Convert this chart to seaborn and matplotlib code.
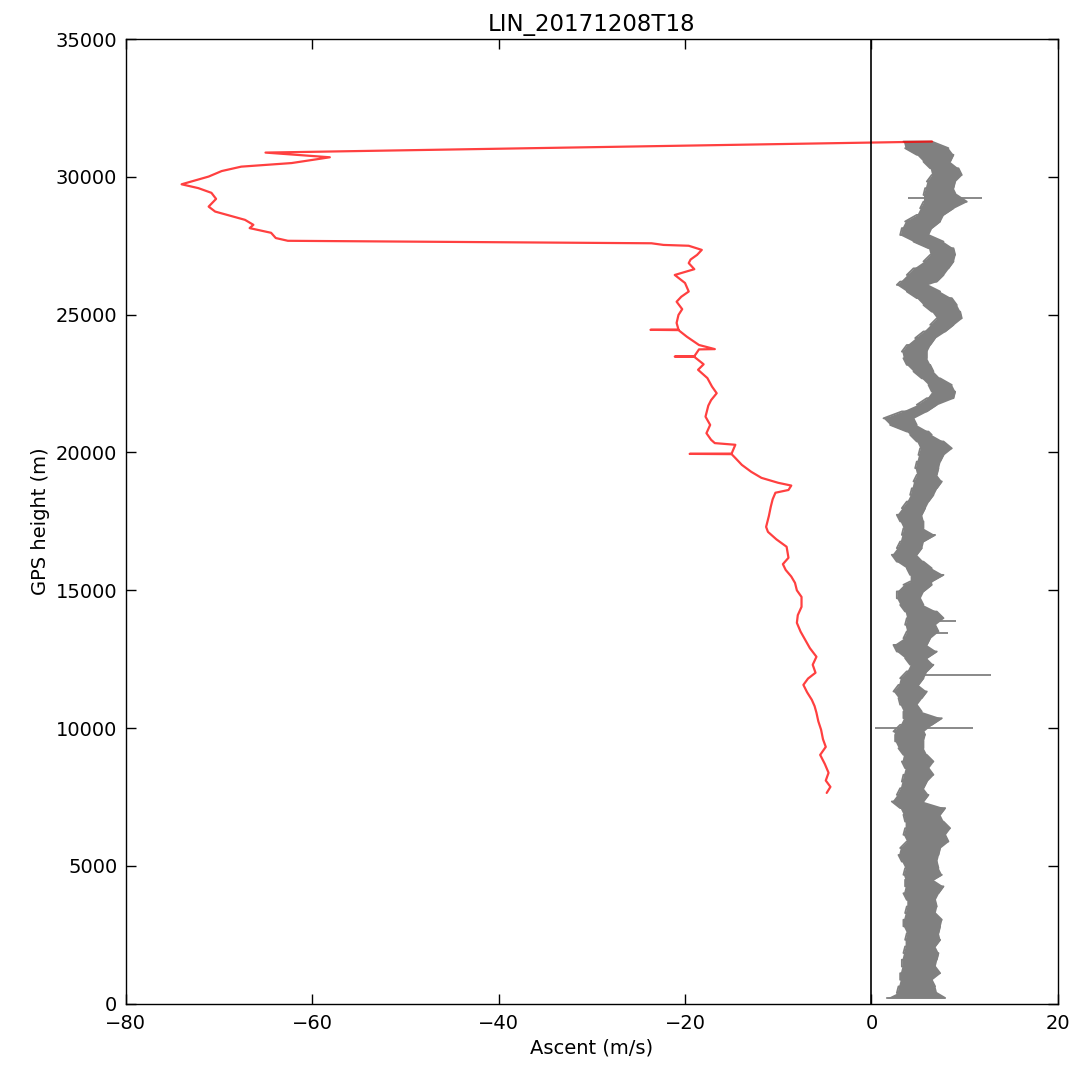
import numpy as np
import pandas as pd
import matplotlib
matplotlib.use("Agg")
import matplotlib.pyplot as plt
import seaborn as sns

# ascent profile: height (m), left edge / right edge (m/s)
asc_height = [31280, 31040, 30800, 30550, 30310, 30070, 29830, 29590, 29340, 29100,
              28860, 28620, 28380, 28140, 27890, 27650, 27410, 27170, 26930, 26680,
              26440, 26200, 26080, 25840, 25600, 25350, 25110, 24870, 24630, 24390,
              24150, 23900, 23660, 23420, 23180, 22940, 22690, 22450, 22210, 21970,
              21730, 21490, 21240, 21000, 20760, 20640, 20400, 20150, 19910, 19670,
              19430, 19190, 18950, 18700, 18460, 18220, 17980, 17740, 17500, 17250,
              17010, 16770, 16530, 16290, 16040, 15800, 15560, 15320, 15200, 14960,
              14710, 14470, 14230, 13990, 13750, 13510, 13260, 13020, 12780, 12540,
              12300, 12060, 11810, 11570, 11330, 11090, 10850, 10600, 10360, 10120,
              9880, 9760, 9520, 9270, 9030, 8790, 8550, 8310, 8060, 7820,
              7580, 7340, 7100, 6860, 6610, 6370, 6130, 5890, 5650, 5400,
              5160, 4920, 4680, 4500, 4260, 4010, 3770, 3530, 3290, 3050,
              2810, 2560, 2320, 2080, 1840, 1600, 1350, 1110, 870, 630,
              390, 210]
asc_left = [3.43, 3.61, 4.86, 5.58, 6.30, 6.47, 5.94, 5.76, 5.58, 5.58,
            5.22, 4.86, 3.61, 3.26, 3.08, 4.51, 6.12, 6.30, 5.58, 4.51,
            3.79, 3.08, 2.72, 3.79, 4.86, 5.58, 6.47, 7.01, 6.30, 5.58,
            4.69, 3.79, 3.26, 3.43, 3.79, 4.51, 5.40, 6.12, 6.47, 5.94,
            4.86, 3.26, 1.29, 2.00, 3.79, 4.15, 4.86, 5.22, 5.04, 4.86,
            4.69, 4.86, 4.51, 4.33, 4.15, 3.79, 3.26, 2.72, 3.08, 3.43,
            3.26, 3.08, 2.72, 2.18, 2.72, 3.79, 4.15, 4.15, 3.43, 2.72,
            2.72, 3.08, 3.61, 3.79, 3.61, 3.79, 3.43, 2.36, 2.72, 3.61,
            4.15, 3.79, 3.08, 2.90, 2.36, 2.90, 3.08, 3.43, 3.43, 3.08,
            2.36, 2.54, 2.54, 2.90, 3.43, 3.26, 3.61, 3.43, 3.26, 3.08,
            2.72, 2.18, 3.08, 3.43, 3.61, 3.61, 3.43, 3.79, 3.08, 2.90,
            3.26, 3.61, 3.43, 3.61, 3.61, 3.43, 3.79, 3.79, 3.61, 3.43,
            3.43, 3.79, 3.61, 3.61, 3.43, 3.26, 3.26, 3.08, 3.08, 2.90,
            2.72, 1.65]
asc_right = [6.47, 8.26, 8.80, 8.44, 9.34, 9.69, 8.98, 8.80, 9.16, 10.23,
             8.80, 7.73, 7.37, 6.47, 6.12, 7.73, 8.80, 8.98, 8.80, 8.26,
             7.73, 7.01, 5.94, 7.37, 8.62, 9.16, 9.52, 9.69, 8.80, 7.91,
             6.83, 6.30, 5.94, 5.94, 6.30, 6.65, 7.37, 8.62, 8.98, 8.80,
             7.01, 5.94, 4.51, 4.86, 6.12, 6.47, 7.73, 8.62, 7.73, 7.37,
             7.19, 7.01, 7.55, 7.01, 6.65, 6.12, 5.76, 5.40, 5.58, 5.58,
             6.83, 5.58, 5.40, 4.86, 5.58, 6.47, 7.73, 6.47, 6.47, 5.58,
             5.22, 5.58, 7.01, 7.73, 6.83, 7.19, 6.30, 5.94, 7.01, 5.94,
             6.65, 5.94, 5.58, 5.04, 5.94, 5.40, 4.86, 5.40, 7.55, 6.47,
             5.58, 5.76, 5.58, 5.58, 5.94, 6.65, 6.12, 6.65, 5.94, 5.58,
             6.12, 5.58, 7.91, 7.37, 7.73, 8.44, 7.91, 8.26, 7.37, 7.19,
             7.01, 7.19, 7.55, 6.65, 7.73, 7.19, 6.83, 7.01, 6.83, 7.55,
             7.37, 7.19, 7.37, 6.83, 7.19, 7.01, 6.83, 7.37, 6.47, 6.83,
             7.01, 7.91]

# single-sample outliers in the ascent record
spike_height = [29230, 13890, 13460, 11930, 10010]
spike_lo = [3.97, 5.50, 5.80, 5.00, 0.39]
spike_hi = [11.84, 9.09, 8.26, 12.81, 10.87]

# descent profile (after burst)
desc_height = [31280, 30880, 30710, 30500, 30370, 30210, 30010, 29730, 29590, 29420,
               29200, 28920, 28740, 28440, 28260, 28140, 27970, 27780, 27680, 27590,
               27530, 27500, 27350, 27170, 27000, 26870, 26650, 26440, 26150, 25840,
               25650, 25470, 25200, 24990, 24700, 24460, 24450, 24440, 24200, 23900,
               23750, 23740, 23490, 23480, 23470, 23200, 23000, 22700, 22390, 22150,
               21900, 21700, 21300, 21000, 20700, 20460, 20340, 20280, 19960, 19950,
               19940, 19800, 19550, 19300, 19080, 18900, 18800, 18640, 18540, 18300,
               18030, 17700, 17300, 17120, 16850, 16580, 16180, 15950, 15740, 15500,
               15270, 15000, 14760, 14400, 14100, 13820, 13500, 13200, 12900, 12590,
               12300, 12010, 11800, 11570, 11300, 11030, 10800, 10560, 10250, 9940,
               9600, 9320, 9030, 8700, 8380, 8100, 7870, 7650]
desc_speed = [6.5, -65.0, -58.1, -62.2, -67.6, -69.7, -71.1, -74.0, -72.2, -70.8,
              -70.3, -71.1, -70.4, -67.2, -66.3, -66.7, -64.4, -63.9, -62.6, -23.6,
              -22.3, -19.6, -18.2, -18.7, -19.4, -19.6, -19.0, -21.1, -20.0, -19.6,
              -20.4, -20.9, -20.3, -20.7, -20.9, -20.7, -23.7, -20.7, -19.8, -18.5,
              -16.8, -18.5, -19.0, -21.1, -19.0, -18.0, -18.6, -17.6, -17.1, -16.6,
              -17.2, -17.5, -17.8, -17.3, -17.7, -17.2, -16.8, -14.6, -15.0, -19.5,
              -15.0, -14.6, -13.9, -12.9, -11.8, -10.0, -8.6, -8.9, -10.3, -10.6,
              -10.8, -11.0, -11.3, -11.1, -10.2, -9.1, -8.9, -9.5, -9.2, -8.6,
              -8.2, -8.0, -7.5, -7.5, -7.9, -8.0, -7.6, -7.1, -6.6, -5.9,
              -6.3, -6.0, -6.8, -7.3, -6.9, -6.4, -6.1, -5.9, -5.7, -5.4,
              -5.2, -4.9, -5.5, -5.0, -4.6, -4.9, -4.4, -4.8]

x_ticks = [-80, -60, -40, -20, 0, 20]
y_ticks = [0, 5000, 10000, 15000, 20000, 25000, 30000, 35000]

# zigzag the ascent band so the line sweeps edge to edge
rows = []
for i, (h, lo, hi) in enumerate(zip(asc_height, asc_left, asc_right)):
    pair = [lo, hi] if i % 2 == 0 else [hi, lo]
    rows.append((pair[0], h))
    rows.append((pair[1], h))
asc = pd.DataFrame(rows, columns=["speed", "height"])
desc = pd.DataFrame({"speed": desc_speed, "height": desc_height})

sns.set_style("ticks", {
    "xtick.direction": "in", "ytick.direction": "in",
    "xtick.top": True, "ytick.right": True,
    "axes.edgecolor": "black",
    "text.color": "black", "axes.labelcolor": "black",
})
plt.rcParams["font.family"] = ["DejaVu Sans"]

fig = plt.figure(figsize=(10.74, 10.69), dpi=100)
ax = fig.add_axes([0.117, 0.061, 0.868, 0.9025])

ax.fill_betweenx(asc_height, asc_left, asc_right, color="gray", linewidth=0)
sns.lineplot(data=asc, x="speed", y="height", sort=False, estimator=None,
             color="gray", linewidth=1.3, ax=ax)
ax.hlines(spike_height, spike_lo, spike_hi, color="gray", linewidth=1.3)
sns.lineplot(data=desc, x="speed", y="height", sort=False, estimator=None,
             color="red", alpha=0.75, linewidth=1.6, ax=ax)
ax.axvline(0, color="black", linewidth=1.2)

ax.set_xlim(-80, 20)
ax.set_ylim(0, 35000)
ax.set_xticks(x_ticks)
ax.set_yticks(y_ticks)
ax.tick_params(which="major", length=7, width=1, labelsize=14, colors="black")
ax.tick_params(axis="x", pad=7)
ax.tick_params(axis="y", pad=6)
for side in ax.spines.values():
    side.set_linewidth(1.0)
    side.set_color("black")

ax.set_title("LIN_20171208T18", fontsize=16.5, color="black")
ax.set_xlabel("Ascent (m/s)", fontsize=14, color="black")
ax.set_ylabel("GPS height (m)", fontsize=14, color="black")

fig.savefig("out.png", dpi=100, facecolor="white")
